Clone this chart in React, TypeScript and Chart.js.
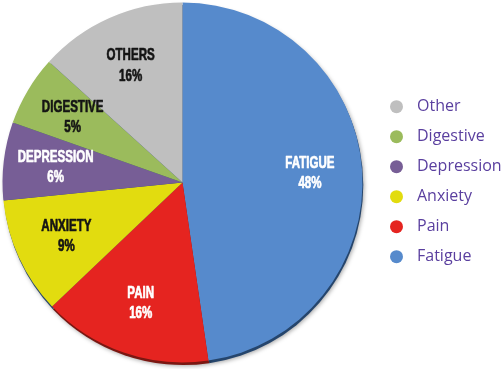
import React, { useEffect, useRef } from "react";
import { Chart, registerables } from "chart.js";

Chart.register(...registerables);

// Data (slice order: clockwise from 12 o'clock)
const categories = ["Fatigue", "Pain", "Anxiety", "Depression", "Digestive", "Other"];
const sliceNames = ["FATIGUE", "PAIN", "ANXIETY", "DEPRESSION", "DIGESTIVE", "OTHERS"];
const shareValues = [47.7, 15.2, 10.5, 7.0, 6.3, 13.3];
const shareLabels = ["48%", "16%", "9%", "6%", "5%", "16%"];

const sliceColors = ["#568acc", "#e52420", "#e2dc0f", "#775e96", "#9bbb5c", "#bfbfbf"];
const edgeColors = ["#25456c", "#7a1712", "#25456c", "#25456c", "#25456c", "#25456c"];
const labelColors = ["#ffffff", "#ffffff", "#141414", "#ffffff", "#141414", "#141414"];

const LABEL_FONT = '"Liberation Sans", Arial, sans-serif';
const LEGEND_FONT = '"Open Sans", "Noto Sans", sans-serif';

const edgePlugin = {
  id: "edgeShadow",
  beforeDatasetsDraw(chart: any) {
    const ctx = chart.ctx;
    const meta = chart.getDatasetMeta(0);
    meta.data.forEach((el: any, i: number) => {
      const p = el.getProps(["x", "y", "startAngle", "endAngle", "outerRadius"], true);
      ctx.save();
      ctx.shadowColor = "rgba(0,0,0,0.35)";
      ctx.shadowBlur = 4;
      ctx.shadowOffsetX = 1;
      ctx.shadowOffsetY = 1;
      ctx.beginPath();
      ctx.moveTo(p.x + 0.8, p.y + 2.6);
      ctx.arc(p.x + 0.8, p.y + 2.6, p.outerRadius, p.startAngle, p.endAngle);
      ctx.closePath();
      ctx.fillStyle = edgeColors[i];
      ctx.fill();
      ctx.restore();
    });
  },
};

const labelPlugin = {
  id: "sliceLabels",
  afterDatasetsDraw(chart: any) {
    const ctx = chart.ctx;
    const meta = chart.getDatasetMeta(0);
    meta.data.forEach((el: any, i: number) => {
      const p = el.getProps(["x", "y", "startAngle", "endAngle", "outerRadius"], true);
      const mid = (p.startAngle + p.endAngle) / 2;
      const r = p.outerRadius * 0.71;
      const x = p.x + Math.cos(mid) * r;
      const y = p.y + Math.sin(mid) * r;
      ctx.save();
      ctx.translate(x, y);
      ctx.scale(0.68, 1);
      ctx.fillStyle = labelColors[i];
      ctx.strokeStyle = labelColors[i];
      ctx.lineWidth = 0.7;
      ctx.lineJoin = "round";
      ctx.font = `bold 17px ${LABEL_FONT}`;
      ctx.textAlign = "center";
      ctx.textBaseline = "middle";
      ctx.fillText(sliceNames[i], 0, -10);
      ctx.strokeText(sliceNames[i], 0, -10);
      ctx.fillText(shareLabels[i], 0, 10.5);
      ctx.strokeText(shareLabels[i], 0, 10.5);
      ctx.restore();
    });
  },
  afterDraw(chart: any) {
    const ctx = chart.ctx;
    const order = categories.map((_, i) => i).reverse();
    ctx.save();
    ctx.font = `16px ${LEGEND_FONT}`;
    ctx.textBaseline = "middle";
    ctx.textAlign = "left";
    order.forEach((idx, row) => {
      const cy = 106.7 + row * 30;
      ctx.beginPath();
      ctx.arc(396.5, cy, 6.5, 0, Math.PI * 2);
      ctx.fillStyle = sliceColors[idx];
      ctx.fill();
      ctx.fillStyle = "#5a3f9f";
      ctx.fillText(categories[idx], 417, cy);
    });
    ctx.restore();
  },
};

export default function App() {
  const ref = useRef<HTMLCanvasElement | null>(null);
  useEffect(() => {
    document.body.style.margin = "0";
    const canvas = ref.current;
    if (!canvas) return;
    const chart = new Chart(canvas, {
      type: "pie",
      data: {
        labels: categories,
        datasets: [
          {
            data: shareValues,
            backgroundColor: sliceColors,
            borderWidth: 0,
          },
        ],
      },
      options: {
        responsive: false,
        maintainAspectRatio: false,
        animation: false,
        layout: { padding: { left: 2.5, top: 2.5, right: 139.5, bottom: 6.5 } },
        plugins: {
          legend: { display: false },
          tooltip: { enabled: false },
        },
      },
      plugins: [edgePlugin, labelPlugin],
    });
    return () => chart.destroy();
  }, []);
  return (
    <div style={{ width: 502, height: 369, background: "#ffffff" }}>
      <canvas ref={ref} width={502} height={369} style={{ display: "block" }} />
    </div>
  );
}
